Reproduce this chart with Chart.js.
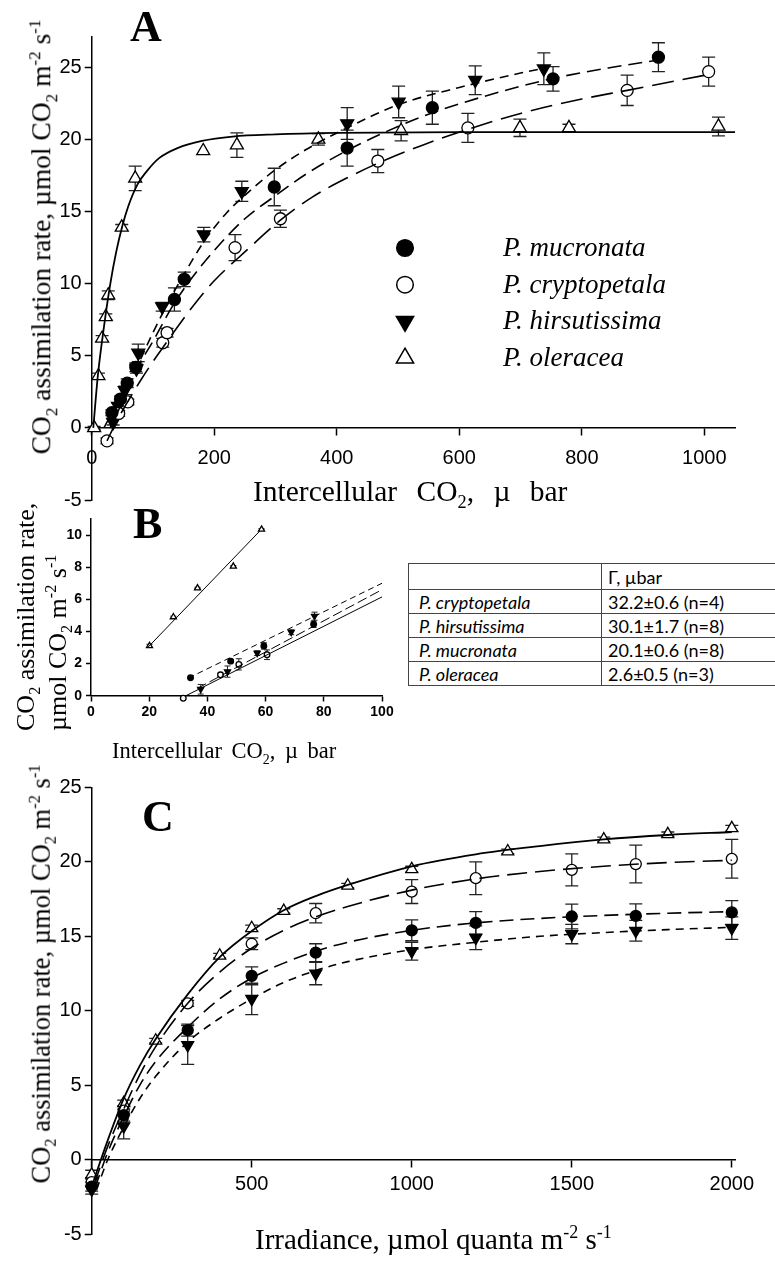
<!DOCTYPE html>
<html>
<head>
<meta charset="utf-8">
<script src="https://cdn.jsdelivr.net/npm/chart.js@4.4.1/dist/chart.umd.min.js"></script>
<style>
  body { margin: 0; width: 775px; height: 1262px; overflow: hidden; background: #fff; position: relative; }
  canvas { position: absolute; left: 0; }
  .t { position: absolute; font-family: "Liberation Serif", "Times New Roman", serif; color: #000; white-space: nowrap; line-height: 1; }
  .panel { font-weight: bold; font-size: 44px; }
  .rot { transform: translate(-50%, -50%) rotate(-90deg); }
  .t sub, .t sup { font-size: 0.62em; line-height: 0; }
  #gamma { position: absolute; left: 408px; top: 563px; width: 375px; border-collapse: collapse;
           font-family: Lato, "Noto Sans", sans-serif; font-size: 18px; color: #000; }
  #gamma td { border: 1.5px solid #444; height: 23px; padding: 0 6px; line-height: 1; }
  #gamma tr:first-child td { height: 25px; }
  #gamma td:first-child { width: 176px; font-style: italic; padding-left: 10px; }
</style>
</head>
<body>
<canvas id="chartA" width="775" height="515" style="top:0px"></canvas>
<canvas id="chartB" width="400" height="225" style="top:505px"></canvas>
<canvas id="chartC" width="775" height="490" style="top:760px"></canvas>

<div class="t panel" style="left:130px;top:5px">A</div>
<div class="t panel" style="left:133px;top:502px">B</div>
<div class="t panel" style="left:142px;top:795px">C</div>

<div class="t rot" style="left:41px;top:237px;font-size:27.5px">CO<sub>2</sub> assimilation rate, µmol CO<sub>2</sub> m<sup>-2</sup> s<sup>-1</sup></div>
<div class="t" style="left:253px;top:477px;font-size:29.5px;word-spacing:12px">Intercellular CO<sub>2</sub>, µ bar</div>

<div class="t" style="left:10px;top:731px;width:240px;font-size:26px;line-height:32px;transform-origin:0 0;transform:rotate(-90deg)">CO<sub>2</sub> assimilation rate,<br>µmol CO<sub>2</sub> m<sup>-2</sup> s<sup>-1</sup></div>
<div class="t" style="left:112px;top:740px;font-size:22.5px;word-spacing:4px">Intercellular CO<sub>2</sub>, µ bar</div>

<div class="t rot" style="left:41px;top:974px;font-size:26.5px">CO<sub>2</sub> assimilation rate, µmol CO<sub>2</sub> m<sup>-2</sup> s<sup>-1</sup></div>
<div class="t" style="left:255px;top:1225px;font-size:29px">Irradiance, µmol quanta m<sup>-2</sup> s<sup>-1</sup></div>

<table id="gamma"></table>

<script>
// Panel A: CO2 response curves (Ci, µbar ; A, µmol m-2 s-1)
const aMucX = [33, 47, 58, 72, 135, 151, 298, 417, 556, 753, 925];
const aMucY = [1.05, 2.0, 3.1, 4.2, 8.9, 10.3, 16.7, 19.4, 22.2, 24.2, 25.7];
const aMucE = [0.2, 0.2, 0.3, 0.3, 0.8, 0.5, 1.3, 1.25, 1.15, 0.85, 1.0];
const aCryX = [25, 44, 59, 116, 123, 234, 308, 467, 614, 874, 1007];
const aCryY = [-0.9, 1.0, 1.8, 5.9, 6.6, 12.5, 14.5, 18.5, 20.8, 23.4, 24.7];
const aCryE = [0.2, 0.2, 0.2, 0.3, 0.3, 0.9, 0.6, 0.8, 1.0, 1.05, 1.0];
const aHirX = [35, 43, 54, 73, 76, 115, 183, 245, 417, 501, 626, 738];
const aHirY = [0.4, 1.5, 2.6, 4.1, 5.2, 8.4, 13.4, 16.4, 21.1, 22.6, 24.1, 24.9];
const aHirE = [0.2, 0.2, 0.3, 0.3, 0.6, 0.3, 0.5, 0.7, 1.1, 1.1, 1.0, 1.1];
const aOleX = [4, 11, 17, 23, 27, 49, 71, 182, 237, 370, 505, 699, 779, 1023];
const aOleY = [0, 3.6, 6.2, 7.7, 9.2, 13.9, 17.3, 19.2, 19.6, 20.0, 20.6, 20.8, 20.8, 20.9];
const aOleE = [0.1, 0.2, 0.2, 0.2, 0.3, 0.2, 0.85, 0, 0.85, 0.4, 0.7, 0.6, 0.25, 0.65];

// fitted curves of panel A
const aFitMucX = [20, 40, 60, 80, 100, 130, 160, 200, 250, 300, 350, 420, 500, 560, 650, 750, 850, 925];
const aFitMucY = [0, 1.6, 3.1, 4.6, 6.0, 8.3, 10.2, 12.3, 14.5, 16.1, 17.6, 19.3, 20.9, 21.9, 23.1, 24.2, 25.0, 25.5];
const aFitCryX = [25, 40, 60, 80, 100, 120, 140, 170, 200, 250, 308, 360, 420, 470, 540, 614, 700, 800, 874, 1007];
const aFitCryY = [-0.9, 0.4, 1.9, 3.3, 4.6, 5.8, 7.0, 8.7, 10.2, 12.2, 14.4, 16.0, 17.4, 18.4, 19.6, 20.7, 21.8, 22.8, 23.4, 24.5];
const aFitHirX = [30, 50, 75, 100, 125, 150, 183, 220, 260, 300, 350, 417, 500, 600, 700, 745];
const aFitHirY = [0, 1.8, 4.3, 6.6, 8.7, 10.6, 12.9, 14.9, 16.5, 17.9, 19.3, 20.8, 22.4, 23.6, 24.6, 25.0];
const aFitOleX = [2.6, 10, 20, 30, 40, 50, 60, 75, 90, 110, 140, 180, 230, 300, 400, 600, 1050];
const aFitOleY = [0, 3.6, 7.0, 9.9, 12.2, 14.0, 15.4, 16.9, 17.8, 18.7, 19.4, 19.9, 20.2, 20.35, 20.45, 20.5, 20.5];

// Panel B: initial slopes
const bMucX = [34.2, 48, 59.4, 76.5];
const bMucY = [1.12, 2.15, 3.1, 4.45];
const bMucE = [0.05, 0.1, 0.2, 0.2];
const bCryX = [31.7, 44.5, 50.8, 60.5];
const bCryY = [-0.16, 1.3, 1.95, 2.55];
const bCryE = [0.05, 0.1, 0.35, 0.3];
const bHirX = [37.7, 46.9, 57.1, 68.8, 76.8];
const bHirY = [0.4, 1.5, 2.65, 3.95, 4.95];
const bHirE = [0.3, 0.35, 0.15, 0.15, 0.25];
const bOleX = [20.1, 28.3, 36.6, 48.9, 58.6];
const bOleY = [3.1, 4.9, 6.7, 8.05, 10.35];
const bOleE = [0.1, 0.05, 0.05, 0.05, 0.05];
const bFitMucX = [33.5, 100], bFitMucY = [1.1, 7.0];
const bFitHirX = [36.5, 100], bFitHirY = [0.45, 6.6];
const bFitCryX = [31, 100], bFitCryY = [-0.15, 6.15];
const bFitOleX = [19.5, 58], bFitOleY = [3.0, 10.25];

// Gamma table
const gammaSpecies = ['P. cryptopetala', 'P. hirsutissima', 'P. mucronata', 'P. oleracea'];
const gammaValues = ['32.2±0.6 (n=4)', '30.1±1.7 (n=8)', '20.1±0.6 (n=8)', '2.6±0.5 (n=3)'];

// Panel C: light response
const cIrr = [0, 100, 300, 500, 700, 1000, 1200, 1500, 1700, 2000];
const cMucY = [-1.8, 3.0, 8.7, 12.35, 13.9, 15.4, 15.9, 16.33, 16.37, 16.6];
const cMucE = [0.3, 0.4, 0.4, 0.6, 0.6, 0.7, 0.75, 0.83, 0.8, 0.8];
const cCryY = [-1.5, 3.3, 10.5, 14.5, 16.55, 18.0, 18.9, 19.46, 19.85, 20.2];
const cCryE = [0.3, 0.3, 0.2, 0.4, 0.65, 0.8, 1.1, 1.07, 1.27, 1.3];
const cHirY = [-2.0, 2.25, 7.7, 10.8, 12.5, 14.0, 14.9, 15.15, 15.37, 15.55];
const cHirE = [0.3, 0.85, 1.3, 1.05, 0.75, 0.6, 0.8, 0.65, 0.7, 0.75];
const cOleX = [0, 100, 200, 400, 500, 600, 800, 1000, 1300, 1600, 1800, 2000];
const cOleY = [-1.0, 3.8, 8.0, 13.7, 15.55, 16.7, 18.4, 19.5, 20.7, 21.5, 21.85, 22.25];
const cOleE = [0.3, 0.2, 0.15, 0.15, 0.2, 0.15, 0.15, 0.2, 0.15, 0.15, 0.15, 0.2];
const cFitOleX = [0, 50, 100, 150, 200, 300, 400, 500, 600, 700, 800, 1000, 1200, 1400, 1600, 1800, 2000];
const cFitOleY = [-1.8, 1.3, 4.1, 6.3, 8.1, 11.1, 13.6, 15.35, 16.75, 17.7, 18.45, 19.7, 20.5, 21.05, 21.5, 21.8, 22.0];
const cFitCryX = [5, 50, 100, 150, 200, 300, 400, 500, 600, 700, 800, 1000, 1200, 1400, 1600, 1800, 2000];
const cFitCryY = [-1.8, 0.9, 3.4, 5.7, 7.6, 10.5, 12.6, 14.2, 15.4, 16.3, 17.0, 18.1, 18.85, 19.35, 19.7, 19.95, 20.1];
const cFitMucX = [10, 50, 100, 150, 200, 300, 400, 500, 600, 700, 800, 1000, 1200, 1400, 1600, 1800, 2000];
const cFitMucY = [-1.9, 0.5, 2.9, 5.0, 6.6, 8.9, 10.8, 12.2, 13.2, 14.0, 14.6, 15.4, 15.9, 16.2, 16.4, 16.55, 16.65];
const cFitHirX = [15, 50, 100, 150, 200, 300, 400, 500, 600, 700, 800, 1000, 1200, 1400, 1600, 1800, 2000];
const cFitHirY = [-2.0, 0.0, 2.2, 4.1, 5.6, 7.9, 9.5, 10.8, 11.9, 12.7, 13.3, 14.1, 14.6, 15.0, 15.25, 15.45, 15.6];
const cTickVals = [0, 500, 1000, 1500, 2000];

//build the little table
var tbl = document.getElementById('gamma');
tbl.insertRow().innerHTML = '<td></td><td>Γ, µbar</td>';
for (var i = 0; i < gammaSpecies.length; i++) {
  tbl.insertRow().innerHTML = '<td>' + gammaSpecies[i] + '</td><td>' + gammaValues[i] + '</td>';
}

function pts(xs, ys) {
  return xs.map(function(x, i) { return {x: x, y: ys[i]}; });
}

// marker series: shape is circle, down (filled triangle) or up (open triangle)
function marks(label, xs, ys, errs, shape, fill, r) {
  return {
    label: label, data: pts(xs, ys), errors: errs, shape: shape, order: 1, clip: false,
    pointStyle: shape === 'circle' ? 'circle' : 'triangle',
    rotation: shape === 'down' ? 180 : 0,
    pointRadius: shape === 'circle' ? r : r * 1.25,
    pointBackgroundColor: fill, backgroundColor: fill,
    pointBorderColor: '#000', borderColor: '#000', pointBorderWidth: 1.3
  };
}

function fit(xs, ys, dash, w) {
  return {
    data: pts(xs, ys), showLine: true, pointRadius: 0, borderColor: '#000', borderWidth: w,
    borderDash: dash, cubicInterpolationMode: 'monotone', order: 0, fill: false
  };
}

// error bars under the markers
const errorBars = {
  id: 'errorBars',
  beforeDatasetsDraw(chart, args, opts) {
    var ctx = chart.ctx, xs = chart.scales.x, ys = chart.scales.y;
    ctx.save();
    ctx.strokeStyle = '#222';
    ctx.lineWidth = opts.width;
    chart.data.datasets.forEach(function(ds) {
      if (!ds.errors) return;
      ds.data.forEach(function(p, i) {
        var e = ds.errors[i];
        if (!e) return;
        var px = xs.getPixelForValue(p.x);
        var y1 = ys.getPixelForValue(p.y - e), y2 = ys.getPixelForValue(p.y + e);
        ctx.beginPath();
        ctx.moveTo(px, y1); ctx.lineTo(px, y2);
        ctx.moveTo(px - opts.cap, y1); ctx.lineTo(px + opts.cap, y1);
        ctx.moveTo(px - opts.cap, y2); ctx.lineTo(px + opts.cap, y2);
        ctx.stroke();
      });
    });
    ctx.restore();
  }
};

function drawMarker(ctx, shape, x, y, r, fill) {
  ctx.beginPath();
  if (shape === 'circle') {
    ctx.arc(x, y, r, 0, Math.PI * 2);
  } else {
    var s = shape === 'down' ? -1 : 1;
    ctx.moveTo(x, y - s * r);
    ctx.lineTo(x + r * 0.866, y + s * r * 0.5);
    ctx.lineTo(x - r * 0.866, y + s * r * 0.5);
  }
  ctx.closePath();
  ctx.fillStyle = fill;
  ctx.fill();
  ctx.lineWidth = 1.5;
  ctx.strokeStyle = '#000';
  ctx.stroke();
}

// species key inside panel A
const insideLegend = {
  id: 'insideLegend',
  afterDraw(chart, args, opts) {
    if (!opts.show) return;
    var ctx = chart.ctx, row = 0;
    ctx.save();
    chart.data.datasets.forEach(function(ds) {
      if (!ds.label) return;
      var y = opts.y + row * opts.dy;
      drawMarker(ctx, ds.shape, opts.x, y, ds.shape === 'circle' ? opts.r : opts.r * 1.2, ds.backgroundColor);
      ctx.fillStyle = '#000';
      ctx.font = opts.font;
      ctx.textBaseline = 'middle';
      ctx.fillText(ds.label, opts.tx, y + 1);
      row++;
    });
    ctx.restore();
  }
};

function axis(min, max, step, font, tl, pad, extra) {
  return Object.assign({
    type: 'linear', min: min, max: max,
    ticks: { stepSize: step, includeBounds: false, font: font, color: '#000', padding: pad,
             callback: function(v) { return String(v); } },
    grid: { display: true, drawOnChartArea: false, drawTicks: true, tickLength: tl, tickColor: '#000', tickWidth: 1.5 },
    border: { display: true, color: '#000', width: 1.5 }
  }, extra);
}

function makeChart(id, datasets, scales, padding, plug) {
  return new Chart(document.getElementById(id), {
    type: 'scatter',
    data: { datasets: datasets },
    options: {
      responsive: false, animation: false, events: [],
      layout: { padding: padding },
      scales: scales,
      plugins: Object.assign({ legend: { display: false }, tooltip: { enabled: false } }, plug)
    },
    plugins: [errorBars, insideLegend]
  });
}

var bigFont = { family: '"Liberation Sans", Arial, sans-serif', size: 20 };
var smallFont = { family: '"Liberation Sans", Arial, sans-serif', size: 14, weight: 'bold' };

makeChart('chartA', [
  marks('P. mucronata', aMucX, aMucY, aMucE, 'circle', '#000', 6),
  marks('P. cryptopetala', aCryX, aCryY, aCryE, 'circle', '#fff', 6),
  marks('P. hirsutissima', aHirX, aHirY, aHirE, 'down', '#000', 6),
  marks('P. oleracea', aOleX, aOleY, aOleE, 'up', '#fff', 6),
  fit(aFitMucX, aFitMucY, [14, 7], 1.6),
  fit(aFitCryX, aFitCryY, [22, 9], 1.6),
  fit(aFitHirX, aFitHirY, [9, 6], 1.6),
  fit(aFitOleX, aFitOleY, [], 1.8)
], {
  x: axis(0, 1050, 200, bigFont, 7, 12, { position: { y: 0 } }),
  y: axis(-5, 27.1, 5, bigFont, 7, 3, { position: 'left', afterFit: function(s) { s.width = 91.7; } })
}, { top: 37, right: 40, bottom: 14.5, left: 0 }, {
  errorBars: { cap: 6.5, width: 1.3 },
  insideLegend: { show: true, x: 405, y: 248, dy: 36.7, tx: 503, r: 8.3, font: 'italic 27px "Liberation Serif"' }
});

makeChart('chartB', [
  marks('', bMucX, bMucY, bMucE, 'circle', '#000', 2.8),
  marks('', bCryX, bCryY, bCryE, 'circle', '#fff', 2.8),
  marks('', bHirX, bHirY, bHirE, 'down', '#000', 2.8),
  marks('', bOleX, bOleY, bOleE, 'up', '#fff', 2.8),
  fit(bFitMucX, bFitMucY, [6, 4], 1),
  fit(bFitHirX, bFitHirY, [10, 4], 1),
  fit(bFitCryX, bFitCryY, [], 1),
  fit(bFitOleX, bFitOleY, [], 1)
], {
  x: axis(0, 100, 20, smallFont, 5, 3, { position: { y: 0 } }),
  y: axis(0, 11, 2, smallFont, 5, 4, { position: 'left', afterFit: function(s) { s.width = 91; } })
}, { top: 14, right: 18, bottom: 34.3, left: 0 }, {
  errorBars: { cap: 3, width: 1 },
  insideLegend: { show: false }
});

var cX = axis(0, 2010, 500, bigFont, 7, 6, {
  position: { y: 0 },
  afterBuildTicks: function(s) { s.ticks = cTickVals.map(function(v) { return {value: v}; }); }
});
cX.ticks.callback = function(v) { return v === 0 ? '' : String(v); };

makeChart('chartC', [
  marks('', cIrr, cMucY, cMucE, 'circle', '#000', 5.5),
  marks('', cIrr, cCryY, cCryE, 'circle', '#fff', 5.5),
  marks('', cIrr, cHirY, cHirE, 'down', '#000', 5.5),
  marks('', cOleX, cOleY, cOleE, 'up', '#fff', 5.5),
  fit(cFitMucX, cFitMucY, [14, 7], 1.6),
  fit(cFitCryX, cFitCryY, [20, 8], 1.6),
  fit(cFitHirX, cFitHirY, [8, 6], 1.6),
  fit(cFitOleX, cFitOleY, [], 1.8)
], {
  x: cX,
  y: axis(-5, 25, 5, bigFont, 7, 3, { position: 'left', afterFit: function(s) { s.width = 91.7; } })
}, { top: 27.3, right: 40, bottom: 15.7, left: 0 }, {
  errorBars: { cap: 6.5, width: 1.3 },
  insideLegend: { show: false }
});
</script>
</body>
</html>
